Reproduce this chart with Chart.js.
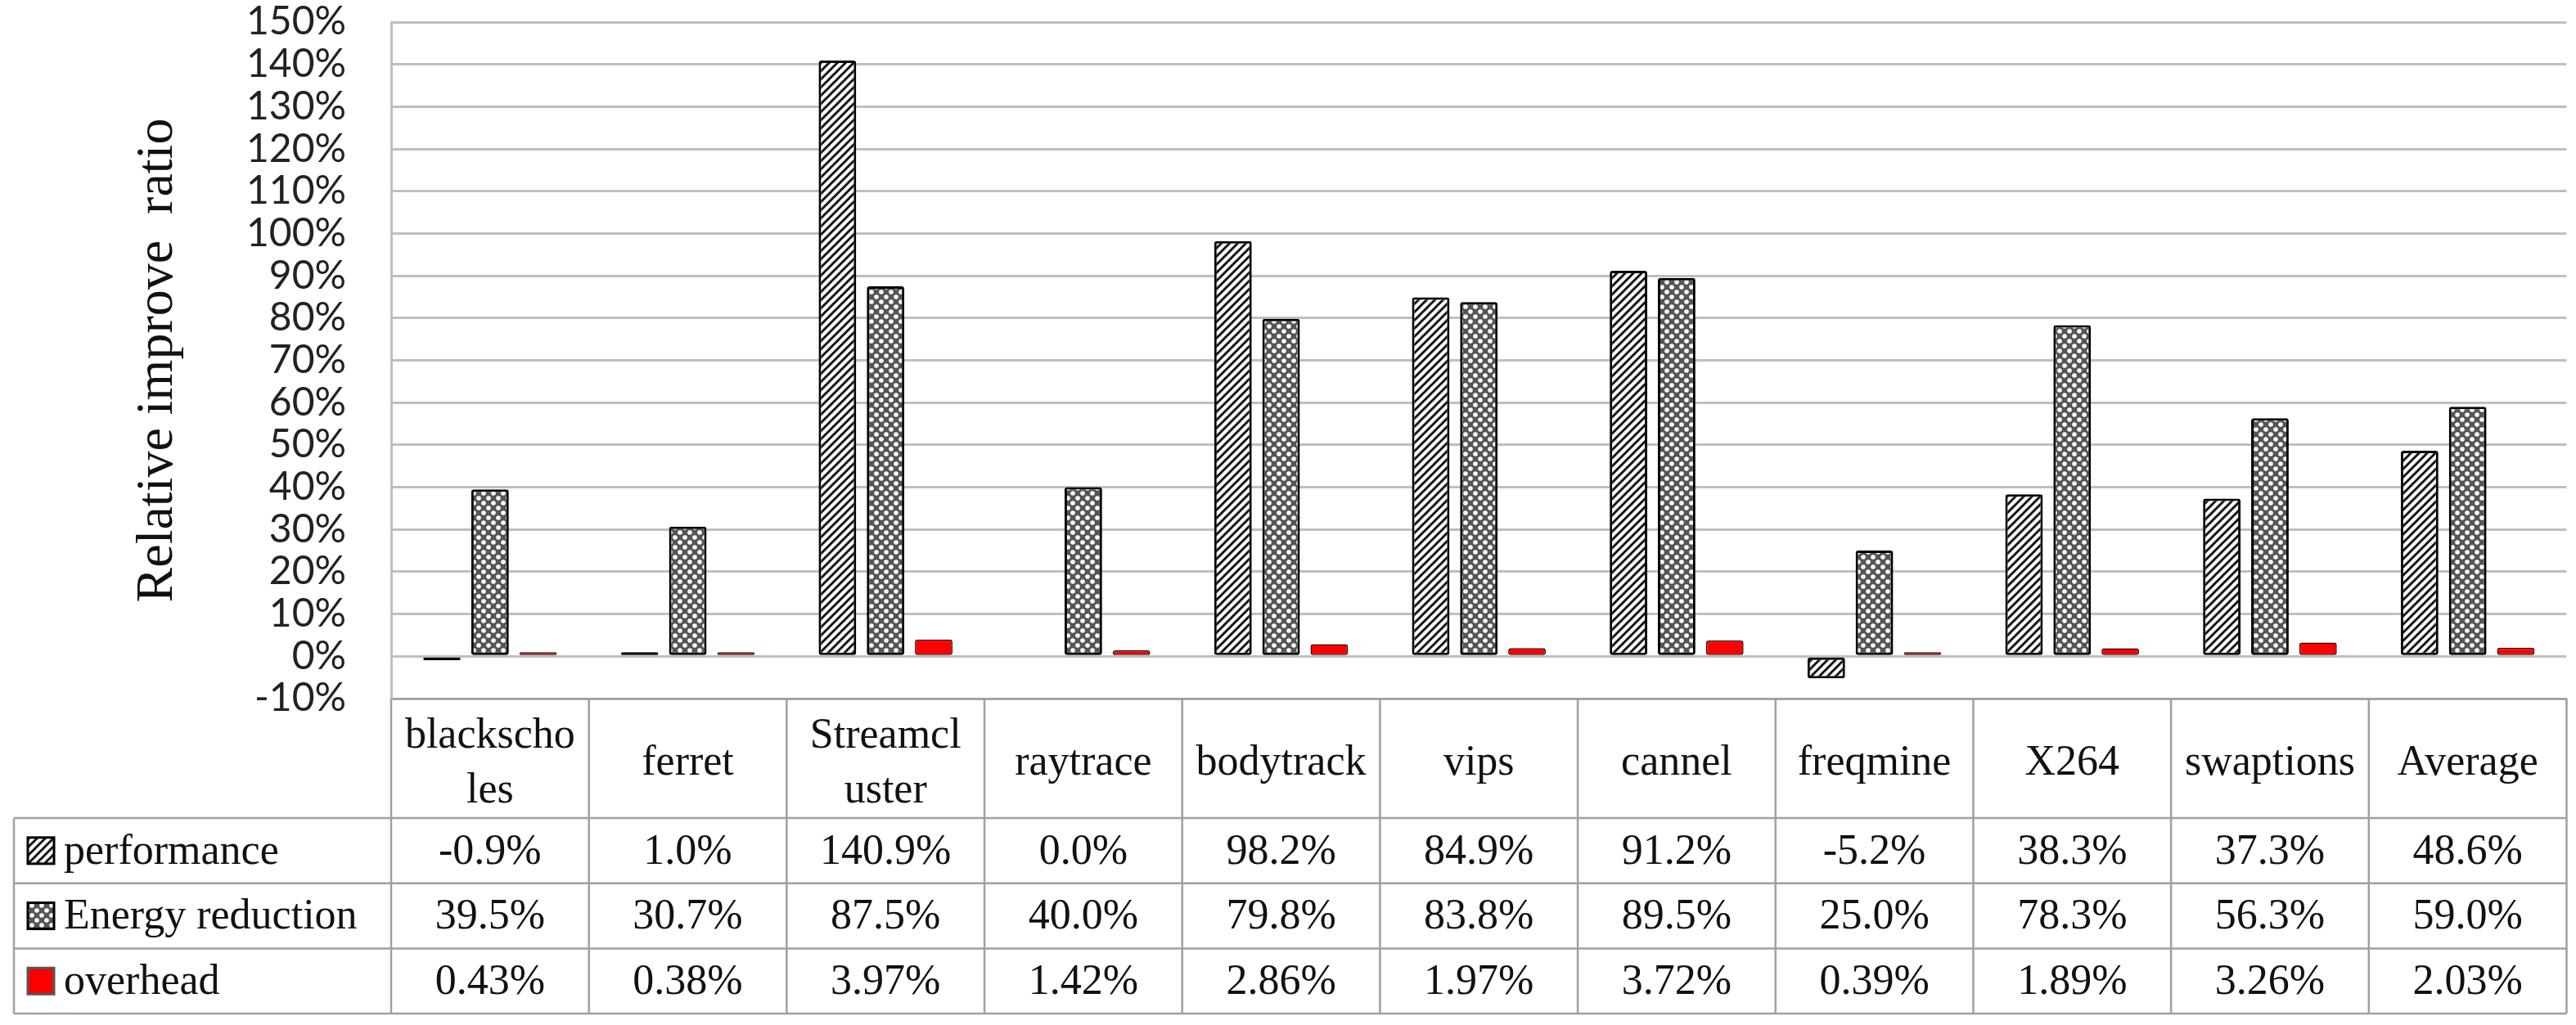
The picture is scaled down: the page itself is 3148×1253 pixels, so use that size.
<!DOCTYPE html>
<html lang="en">
<head>
    <meta charset="UTF-8">
    <title>Relative improve ratio</title>
    <script src="https://cdn.jsdelivr.net/npm/chart.js@4.4.0/dist/chart.umd.min.js"></script>
    <style>
        html, body { margin: 0; padding: 0; background: #fff; }
        canvas { display: block; }
    </style>
</head>
<body>
    <canvas id="myChart" width="3148" height="1253"></canvas>

    <script>
        // data
        const categories = [['blackscho', 'les'], 'ferret', ['Streamcl', 'uster'], 'raytrace', 'bodytrack', 'vips', 'cannel', 'freqmine', 'X264', 'swaptions', 'Average'];
        const seriesNames = ['performance', 'Energy reduction', 'overhead'];
        const performance = [-0.9, 1.0, 140.9, 0.0, 98.2, 84.9, 91.2, -5.2, 38.3, 37.3, 48.6];
        const energyReduction = [39.5, 30.7, 87.5, 40.0, 79.8, 83.8, 89.5, 25.0, 78.3, 56.3, 59.0];
        const overhead = [0.43, 0.38, 3.97, 1.42, 2.86, 1.97, 3.72, 0.39, 1.89, 3.26, 2.03];
        const tableDecimals = [1, 1, 2];
        const yMin = -10, yMax = 150, yStep = 10;

        const GRID = '#bfbfbf';
        const TABLE_LINE = '#a0a0a0';
        const SERIF = '"Liberation Serif", "Times New Roman", serif';

        const canvas = document.getElementById('myChart');
        const ctx = canvas.getContext('2d');

        // fill patterns for the two grey series
        function makeHatch() {
            const c = document.createElement('canvas');
            c.width = 10; c.height = 10;
            const g = c.getContext('2d');
            g.fillStyle = '#fff';
            g.fillRect(0, 0, 10, 10);
            g.strokeStyle = '#151515';
            g.lineWidth = 3;
            g.beginPath();
            g.moveTo(-2, 12); g.lineTo(12, -2);
            g.moveTo(-2, 2); g.lineTo(2, -2);
            g.moveTo(8, 12); g.lineTo(12, 8);
            g.stroke();
            return ctx.createPattern(c, 'repeat');
        }
        function makeDots() {
            const c = document.createElement('canvas');
            c.width = 12; c.height = 12;
            const g = c.getContext('2d');
            g.fillStyle = '#555';
            g.fillRect(0, 0, 12, 12);
            g.fillStyle = '#fff';
            [[3, 3], [9, 9]].forEach(p => {
                g.beginPath();
                g.arc(p[0], p[1], 2.8, 0, Math.PI * 2);
                g.fill();
            });
            return ctx.createPattern(c, 'repeat');
        }
        const hatch = makeHatch();
        const dots = makeDots();
        const fills = [hatch, dots, '#ff0000'];
        const edges = ['#000', '#000', '#3a0000'];
        const edgeW = [3, 3, 1.5];
        const seriesData = [performance, energyReduction, overhead];

        // data table under the plot (Excel style)
        const tablePlugin = {
            id: 'dataTable',
            afterDraw(chart) {
                const c = chart.ctx;
                const area = chart.chartArea;
                const xs = chart.scales.x;
                const colW = (area.right - area.left) / categories.length;
                const rowTop = 1000, rowH = 79.7, tableLeft = 17;
                const bottom = rowTop + rowH * 3;
                c.save();
                c.strokeStyle = TABLE_LINE;
                c.lineWidth = 2.5;
                c.beginPath();
                for (let r = 0; r <= 3; r++) {
                    const y = rowTop + r * rowH;
                    c.moveTo(tableLeft, y); c.lineTo(area.right, y);
                }
                c.moveTo(tableLeft, rowTop); c.lineTo(tableLeft, bottom);
                for (let k = 0; k <= categories.length; k++) {
                    const x = area.left + k * colW;
                    c.moveTo(x, area.bottom); c.lineTo(x, bottom);
                }
                c.stroke();

                c.font = '52px ' + SERIF;
                c.textBaseline = 'middle';
                for (let s = 0; s < 3; s++) {
                    const cy = rowTop + (s + 0.5) * rowH;
                    // legend key
                    c.fillStyle = fills[s];
                    c.fillRect(34, cy - 16, 32, 32);
                    c.strokeStyle = s === 2 ? '#555' : '#000';
                    c.lineWidth = 3;
                    c.strokeRect(34, cy - 16, 32, 32);
                    c.fillStyle = '#111';
                    c.textAlign = 'left';
                    c.fillText(seriesNames[s], 78, cy + 2);
                    c.textAlign = 'center';
                    seriesData[s].forEach((v, i) => {
                        c.fillText(v.toFixed(tableDecimals[s]) + '%', xs.getPixelForValue(i), cy + 2);
                    });
                }
                c.restore();
            }
        };

        new Chart(ctx, {
            type: 'bar',
            data: {
                labels: categories,
                datasets: seriesNames.map((name, s) => ({
                    label: name,
                    // a zero value draws no bar at all, as in the original
                    data: seriesData[s].map(v => (v === 0 ? null : v)),
                    backgroundColor: fills[s],
                    borderColor: edges[s],
                    borderWidth: edgeW[s],
                    borderSkipped: false,
                    borderRadius: 3,
                    minBarLength: 5,
                    categoryPercentage: 0.73,
                    barPercentage: 0.78
                }))
            },
            options: {
                responsive: false,
                animation: false,
                layout: { padding: { left: 0, top: 27, right: 5, bottom: 0 } },
                plugins: {
                    legend: { display: false },
                    tooltip: { enabled: false }
                },
                scales: {
                    x: {
                        afterFit(scale) { scale.height = 399; },
                        grid: { display: true, drawOnChartArea: false, drawTicks: false, color: GRID },
                        border: { display: true, color: TABLE_LINE, width: 2.5 },
                        ticks: {
                            autoSkip: false,
                            maxRotation: 0,
                            minRotation: 0,
                            crossAlign: 'center',
                            padding: 46,
                            color: '#111',
                            font: { family: SERIF, size: 52, lineHeight: 1.29 }
                        }
                    },
                    y: {
                        min: yMin,
                        max: yMax,
                        afterFit(scale) { scale.width = 478; },
                        // invisible tick marks keep the labels 55px off the axis
                        grid: { color: GRID, lineWidth: 3, drawTicks: true, tickLength: 55, tickColor: 'rgba(0,0,0,0)' },
                        border: { display: true, color: GRID, width: 3 },
                        ticks: {
                            stepSize: yStep,
                            autoSkip: false,
                            padding: 0,
                            color: '#222',
                            font: { family: 'Lato', size: 48, lineHeight: 1 },
                            callback: v => v + '%'
                        },
                        title: {
                            display: true,
                            text: 'Relative improve  ratio',
                            color: '#111',
                            padding: { top: 161, bottom: 0 },
                            font: { family: SERIF, size: 64, lineHeight: 1 }
                        }
                    }
                }
            },
            plugins: [tablePlugin]
        });
    </script>
</body>
</html>
